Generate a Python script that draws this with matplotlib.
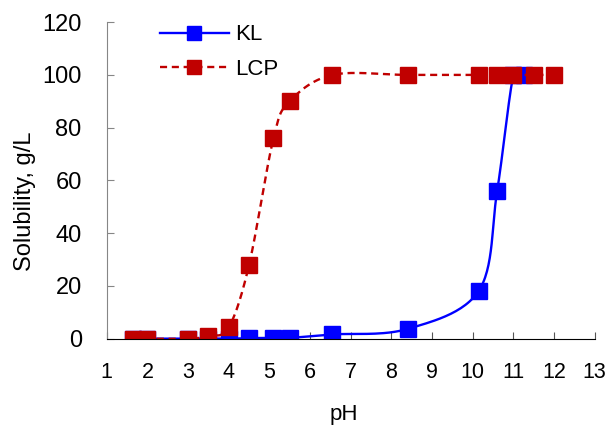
import numpy as np
import matplotlib.pyplot as plt

plt.rcParams['font.family'] = ['Liberation Sans', 'DejaVu Sans']

# data
kl_ph = [1.65, 2.0, 3.0, 3.5, 4.0, 4.5, 5.1, 5.5, 6.55, 8.4, 10.15, 10.6, 11.0, 11.25]
kl_sol = [0, 0, 0, 0, 0, 0.2, 0.3, 0.3, 1.6, 3.7, 18.2, 56, 100, 100]
lcp_ph = [1.65, 2.0, 3.0, 3.5, 4.0, 4.5, 5.1, 5.5, 6.55, 8.4, 10.15, 10.6, 11.0, 11.5, 12.0]
lcp_sol = [0, 0, 0, 1.0, 4.3, 28, 76, 90, 100, 100, 100, 100, 100, 100, 100]


def smooth(x, y, n=30):
    # catmull-rom style bezier like the spreadsheet "smoothed line"
    x = np.asarray(x, float)
    y = np.asarray(y, float)
    px = np.concatenate([[x[0]], x, [x[-1]]])
    py = np.concatenate([[y[0]], y, [y[-1]]])
    xs, ys = [], []
    t = np.linspace(0, 1, n)
    for i in range(1, len(px) - 2):
        p0 = np.array([px[i], py[i]])
        p3 = np.array([px[i + 1], py[i + 1]])
        c1 = p0 + (np.array([px[i + 1], py[i + 1]]) - np.array([px[i - 1], py[i - 1]])) / 6
        c2 = p3 - (np.array([px[i + 2], py[i + 2]]) - np.array([px[i], py[i]])) / 6
        pts = ((1 - t)[:, None] ** 3 * p0 + 3 * ((1 - t) ** 2 * t)[:, None] * c1
               + 3 * ((1 - t) * t ** 2)[:, None] * c2 + (t ** 3)[:, None] * p3)
        xs.extend(pts[:, 0])
        ys.extend(pts[:, 1])
    return np.array(xs), np.array(ys)


fig = plt.figure(figsize=(6.1, 4.26), dpi=100)
ax = fig.add_axes([0.175, 0.205, 0.8, 0.743])

blue = '#0000FF'
red = '#C00000'

sx, sy = smooth(kl_ph, kl_sol)
sy = np.minimum(sy, 100)
ax.plot(sx, sy, color=blue, lw=1.7)
ax.plot(kl_ph, kl_sol, 's', color=blue, ms=11, mec=blue)
sx, sy = smooth(lcp_ph, lcp_sol)
ax.plot(sx, sy, color=red, lw=1.7, ls=(0, (3, 2)))
ax.plot(lcp_ph, lcp_sol, 's', color=red, ms=11, mec=red)

# legend handles
h1, = ax.plot([], [], color=blue, lw=1.7, marker='s', ms=10, label='KL')
h2, = ax.plot([], [], color=red, lw=1.7, ls=(0, (3, 2)), marker='s', ms=10, label='LCP')
fig.legend([h1, h2], ['KL', 'LCP'], loc='upper left', bbox_to_anchor=(0.262, 0.943),
           frameon=False, fontsize=16, handlelength=3.1, labelspacing=0.62,
           handletextpad=0.3, borderpad=0, borderaxespad=0)

ax.set_xlim(1, 13)
ax.set_ylim(0, 120)
ax.set_xticks(range(1, 14))
ax.set_yticks(range(0, 121, 20))
ax.tick_params(axis='x', direction='in', labelsize=15.5, length=5, pad=17, color='#555555')
ax.tick_params(axis='y', direction='in', labelsize=17, length=5, pad=18, color='#868686')
for s in ['top', 'right']:
    ax.spines[s].set_visible(False)
ax.spines['left'].set_color('#868686')
ax.spines['bottom'].set_color('black')
ax.set_xlabel('pH', fontsize=16)
ax.set_ylabel('Solubility, g/L', fontsize=17)
ax.xaxis.set_label_coords(0.485, -0.205)
ax.yaxis.set_label_coords(-0.145, 0.434)

fig.savefig('out.png', dpi=100)
